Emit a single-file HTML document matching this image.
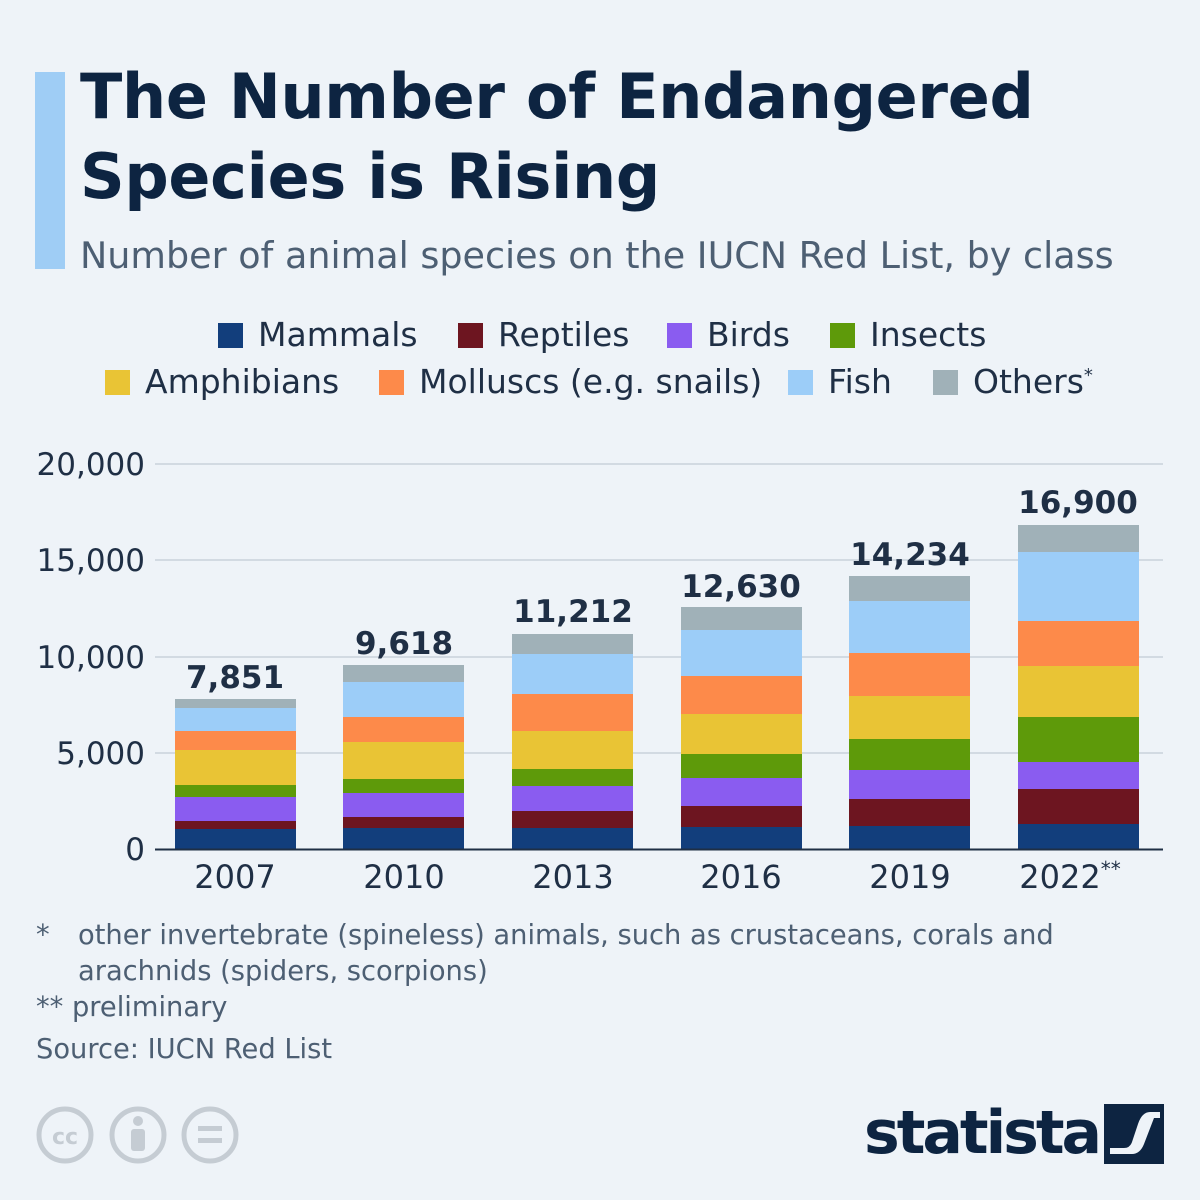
<!DOCTYPE html>
<html><head><meta charset="utf-8"><style>
body{margin:0;width:1200px;height:1200px;background:#eef3f8;font-family:"Liberation Sans","DejaVu Sans",sans-serif;position:relative;overflow:hidden;color:#0d2441}
.a{position:absolute;white-space:nowrap}
.t{font-family:"DejaVu Sans","Liberation Sans",sans-serif;font-weight:bold;font-size:62px;color:#0d2441;left:80px;letter-spacing:-0.3px}
.sub{font-family:"DejaVu Sans",sans-serif;font-size:36.5px;color:#4d5f73;left:80px;top:234px}
.lg{font-family:"DejaVu Sans",sans-serif;font-size:33px;color:#1f2f45}
.sq{position:absolute;width:25px;height:25px}
.ft{font-family:"DejaVu Sans",sans-serif;font-size:27.3px;color:#4d5f73}
</style></head><body>
<div class="a" style="left:35px;top:72px;width:30px;height:197px;background:#9fcdf5"></div>
<div class="a t" style="top:60px">The Number of Endangered</div>
<div class="a t" style="top:140px">Species is Rising</div>
<div class="a sub">Number of animal species on the IUCN Red List, by class</div>

<div class="sq" style="left:218px;top:323px;background:#123e7c"></div><div class="a lg" style="left:258px;top:315px">Mammals</div>
<div class="sq" style="left:458px;top:323px;background:#6d1520"></div><div class="a lg" style="left:498px;top:315px">Reptiles</div>
<div class="sq" style="left:667px;top:323px;background:#8a5cf0"></div><div class="a lg" style="left:707px;top:315px">Birds</div>
<div class="sq" style="left:830px;top:323px;background:#5e9a0a"></div><div class="a lg" style="left:870px;top:315px">Insects</div>
<div class="sq" style="left:105px;top:370px;background:#e9c435"></div><div class="a lg" style="left:145px;top:362px">Amphibians</div>
<div class="sq" style="left:379px;top:370px;background:#fd8a4a"></div><div class="a lg" style="left:419px;top:362px">Molluscs (e.g. snails)</div>
<div class="sq" style="left:788px;top:370px;background:#9ccdf8"></div><div class="a lg" style="left:828px;top:362px">Fish</div>
<div class="sq" style="left:933px;top:370px;background:#a0b1b8"></div><div class="a lg" style="left:973px;top:362px">Others<sup style="font-size:18px">*</sup></div>

<svg class="a" style="left:0;top:0" width="1200" height="1200">
<g stroke="#c9d2db" stroke-width="1.5">
<line x1="155" x2="1163" y1="464" y2="464"/><line x1="155" x2="1163" y1="560" y2="560"/>
<line x1="155" x2="1163" y1="657" y2="657"/><line x1="155" x2="1163" y1="753" y2="753"/>
</g>
<g font-family="DejaVu Sans,Liberation Sans,sans-serif" font-size="31" fill="#1f2f45" text-anchor="end">
<text x="145" y="475">20,000</text><text x="145" y="571">15,000</text><text x="145" y="668">10,000</text><text x="145" y="764">5,000</text><text x="145" y="860">0</text>
</g>
<g id="bars"></g>
<line x1="155" x2="1163" y1="849.5" y2="849.5" stroke="#1f2f45" stroke-width="2"/>
<g font-family="DejaVu Sans,Liberation Sans,sans-serif" font-size="32" fill="#1f2f45" text-anchor="middle">
<text x="235" y="888">2007</text><text x="404" y="888">2010</text><text x="573" y="888">2013</text><text x="741" y="888">2016</text><text x="910" y="888">2019</text><text x="1070" y="888">2022<tspan font-size="20" dy="-12">**</tspan></text>
</g>
<g font-family="DejaVu Sans,Liberation Sans,sans-serif" font-size="31" font-weight="bold" fill="#1f2f45" text-anchor="middle">
<text x="235" y="688">7,851</text><text x="404" y="654">9,618</text><text x="573" y="622">11,212</text><text x="741" y="597">12,630</text><text x="910" y="565">14,234</text><text x="1078" y="513">16,900</text>
</g>
</svg>

<div class="a ft" style="left:36px;top:920px">*</div>
<div class="a ft" style="left:78px;top:920px">other invertebrate (spineless) animals, such as crustaceans, corals and</div>
<div class="a ft" style="left:78px;top:956px">arachnids (spiders, scorpions)</div>
<div class="a ft" style="left:36px;top:992px">** preliminary</div>
<div class="a ft" style="left:36px;top:1034px">Source: IUCN Red List</div>

<svg class="a" style="left:30px;top:1100px" width="220" height="70">
<g fill="none" stroke="#c5ccd3" stroke-width="5">
<circle cx="35" cy="35" r="26"/><circle cx="108" cy="35" r="26"/><circle cx="180" cy="35" r="26"/></g>
<text x="35" y="44" font-family="DejaVu Sans" font-weight="bold" font-size="22" fill="#c5ccd3" text-anchor="middle">cc</text>
<circle cx="108" cy="21" r="5" fill="#c5ccd3"/><rect x="101" y="29" width="14" height="22" rx="3" fill="#c5ccd3"/>
<rect x="168" y="26" width="24" height="5" fill="#c5ccd3"/><rect x="168" y="38" width="24" height="5" fill="#c5ccd3"/>
</svg>
<div class="a" style="left:864px;top:1098px;font-family:'DejaVu Sans',sans-serif;font-weight:bold;font-size:60px;color:#0d2441;letter-spacing:-3px">statista</div>
<svg class="a" style="left:1104px;top:1104px" width="60" height="60">
<rect width="60" height="60" fill="#0d2441"/>
<path d="M6 50 L28 50 Q36 50 40 40 L50 14 L56 14 L56 8 L46 8 Q38 8 34 20 L28 38 Q26 44 20 44 L6 44Z" fill="#eef3f8"/>
</svg>

<script>
var xs=[175,343,512,681,849,1018];
var cols=["#123e7c","#6d1520","#8a5cf0","#5e9a0a","#e9c435","#fd8a4a","#9ccdf8","#a0b1b8"];
var tops=[[829,821,797,785,750,731,708,699],[828,817,793,779,742,717,682,665],[828,811,786,769,731,694,654,634],[827,806,778,754,714,676,630,607],[826,799,770,739,696,653,601,576],[824,789,762,717,666,621,552,525]];
var g=document.getElementById('bars'),s='';
for(var i=0;i<6;i++){var prev=849;for(var j=0;j<8;j++){var t=tops[i][j];s+='<rect x="'+xs[i]+'" y="'+t+'" width="121" height="'+(prev-t)+'" fill="'+cols[j]+'"/>';prev=t;}}
g.innerHTML=s;
</script>
</body></html>
